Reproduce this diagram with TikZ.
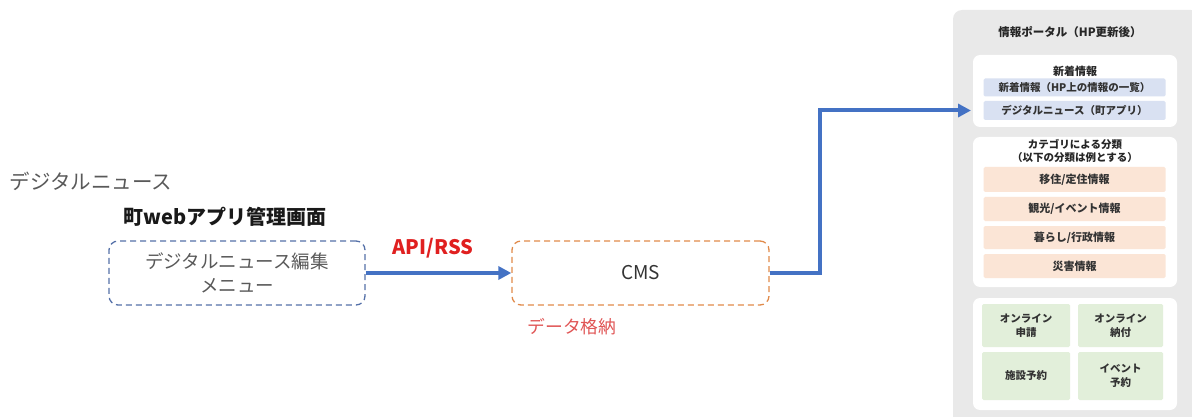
\documentclass[tikz,border=0pt]{standalone}
\usepackage{fontspec}
\setmainfont{Noto Sans CJK JP}
\usetikzlibrary{arrows.meta,positioning}
\definecolor{flowblue}{HTML}{4472C4}
\definecolor{dashblue}{HTML}{5470A8}
\definecolor{dashorange}{HTML}{E08A4A}
\definecolor{panelgray}{HTML}{E9E9E9}
\definecolor{barblue}{HTML}{D9E1F2}
\definecolor{barorange}{HTML}{FBE5D6}
\definecolor{bargreen}{HTML}{E2EFDA}
\definecolor{txtgray}{HTML}{595959}
\definecolor{apired}{HTML}{E02020}
\definecolor{storered}{HTML}{E05555}
\tikzset{
  dashbox/.style={draw, dashed, line width=1.3pt, rounded corners=9pt, dash pattern=on 6pt off 4pt},
  whitebox/.style={fill=white, rounded corners=7pt, draw=none},
  bar/.style={rounded corners=1.5pt, draw=none, font=\fontsize{10.5}{12}\selectfont\bfseries, text=black!80},
  catbar/.style={bar, fill=barorange, minimum width=182pt, font=\fontsize{11}{12}\selectfont\bfseries},
  greenbox/.style={bar, fill=bargreen, align=center, font=\fontsize{10.5}{14}\selectfont\bfseries},
  flow/.style={draw=flowblue, line width=4pt, -{Triangle[length=13pt,width=13pt]}},
  ptitle/.style={font=\fontsize{11.5}{13}\selectfont\bfseries, text=black!85, align=center}
}
\begin{document}
\begin{tikzpicture}[x=1pt,y=-1pt]
\useasboundingbox (0,0) rectangle (1192,417);
% portal panel
\fill[panelgray, rounded corners=9pt] (953,10) rectangle (1200,430);
\node[ptitle] (ptitle) at (1070,32) {情報ポータル（HP更新後）};
% box 1
\path[whitebox] (973,55) rectangle (1177,127);
\node[ptitle, font=\fontsize{11}{13}\selectfont\bfseries] (t1) at (1075,71) {新着情報};
\node[bar, fill=barblue, minimum width=182pt, minimum height=18pt] (b11) at (1074.5,87.5) {新着情報（HP上の情報の一覧）};
\node[bar, fill=barblue, minimum width=182pt, minimum height=19pt] (b12) at (1074.5,110.5) {デジタルニュース（町アプリ）};
\coordinate (in1) at (971,110.5);
% box 2
\path[whitebox] (973,137) rectangle (1177,287);
\node[ptitle, font=\fontsize{10.5}{13.5}\selectfont\bfseries] (t2) at (1075,151) {カテゴリによる分類\\（以下の分類は例とする）};
\node[catbar, minimum height=25pt] (b21) at (1074.5,179.5) {移住/定住情報};
\node[catbar, minimum height=24pt] (b22) at (1074.5,209) {観光/イベント情報};
\node[catbar, minimum height=23pt] (b23) at (1074.5,237.5) {暮らし/行政情報};
\node[catbar, minimum height=24pt] (b24) at (1074.5,266) {災害情報};
% box 3
\path[whitebox] (973,298) rectangle (1177,410);
\node[greenbox, minimum width=88pt, minimum height=43pt] (g1) at (1026,325.5) {オンライン\\申請};
\node[greenbox, minimum width=85pt, minimum height=43pt] (g2) at (1120.5,325.5) {オンライン\\納付};
\node[greenbox, minimum width=88pt, minimum height=48pt] (g3) at (1026,376) {施設予約};
\node[greenbox, minimum width=85pt, minimum height=48pt] (g4) at (1120.5,376) {イベント\\予約};
% left side
\node[anchor=west, text=txtgray, font=\fontsize{20.5}{22}\selectfont] (dn) at (6,181) {デジタルニュース};
\node[font=\fontsize{20}{22}\selectfont\bfseries, text=black!90] (mgmt) at (225,217) {町webアプリ管理画面};
\node[dashbox, draw=dashblue, minimum width=256pt, minimum height=64pt, align=center, text=txtgray, font=\fontsize{18.5}{24}\selectfont] (edit) at (237,273) {デジタルニュース編集\\メニュー};
\node[dashbox, draw=dashorange, minimum width=257pt, minimum height=64pt, text=black!80, font=\fontsize{19}{20}\selectfont] (cms) at (640.5,273) {CMS};
\node[text=apired, font=\fontsize{20}{22}\selectfont\bfseries] (api) at (433,248) {API/RSS};
\node[anchor=west, text=storered, font=\fontsize{17.8}{20}\selectfont] (store) at (524,327) {データ格納};
\coordinate (bend1) at (820,273);
\coordinate (bend2) at (820,110.5);
\draw[flow] (edit.east) -- (cms.west);
\draw[flow, rounded corners=0pt] (cms.east) -- (bend1) -- (bend2) -- (in1);
\end{tikzpicture}
\end{document}
